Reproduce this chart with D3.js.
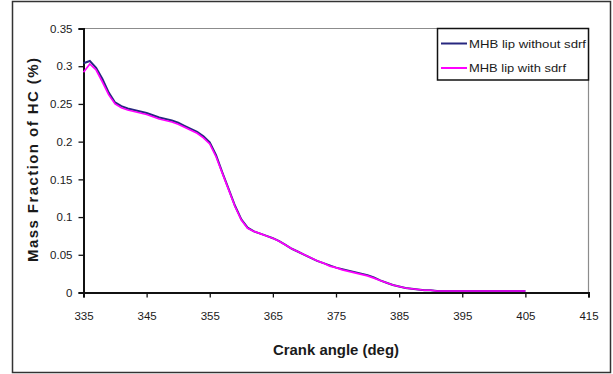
<!DOCTYPE html>
<html>
<head>
<meta charset="utf-8">
<script src="https://cdn.jsdelivr.net/npm/d3@7"></script>
<style>
  html, body { margin: 0; padding: 0; background: #fff; }
  svg { display: block; }
  text { font-family: "Liberation Sans", Arial, sans-serif; fill: #1a1a1a; }
</style>
</head>
<body>
<svg id="chart" width="613" height="374"></svg>
<script>
// Crank angle (deg) samples
const crankAngle = [
  335, 336, 337, 338, 339, 340, 341, 342, 343, 344,
  345, 346, 347, 348, 349, 350, 351, 352, 353, 354,
  355, 356, 357, 358, 359, 360, 361, 362, 363, 364,
  365, 366, 367, 368, 369, 370, 371, 372, 373, 374,
  375, 376, 377, 378, 379, 380, 381, 382, 383, 384,
  385, 386, 387, 388, 389, 390, 391, 392, 393, 394,
  395, 396, 397, 398, 399, 400, 401, 402, 403, 404, 405
];

// Mass fraction of HC (%) — MHB lip without sdrf
const hcWithout = [
  0.304, 0.307, 0.298, 0.283, 0.265, 0.252, 0.247, 0.244, 0.242, 0.240,
  0.238, 0.235, 0.232, 0.230, 0.228, 0.225, 0.221, 0.217, 0.213, 0.207,
  0.199, 0.182, 0.159, 0.137, 0.115, 0.097, 0.086, 0.081, 0.078, 0.075,
  0.072, 0.068, 0.063, 0.058, 0.054, 0.050, 0.046, 0.042, 0.039, 0.036,
  0.033, 0.031, 0.029, 0.027, 0.025, 0.023, 0.020, 0.016, 0.013, 0.010,
  0.008, 0.006, 0.005, 0.004, 0.003, 0.003, 0.002, 0.002, 0.002, 0.002,
  0.002, 0.002, 0.002, 0.002, 0.002, 0.002, 0.002, 0.002, 0.002, 0.002, 0.002
];

// Mass fraction of HC (%) — MHB lip with sdrf
const hcWith = [
  0.292, 0.303, 0.295, 0.279, 0.262, 0.250, 0.245, 0.242, 0.240, 0.238,
  0.236, 0.233, 0.230, 0.228, 0.226, 0.223, 0.219, 0.215, 0.211, 0.205,
  0.197, 0.180, 0.158, 0.136, 0.114, 0.096, 0.085, 0.081, 0.078, 0.075,
  0.072, 0.068, 0.063, 0.058, 0.054, 0.050, 0.046, 0.042, 0.039, 0.035,
  0.033, 0.030, 0.028, 0.026, 0.024, 0.022, 0.019, 0.016, 0.013, 0.010,
  0.008, 0.006, 0.005, 0.004, 0.003, 0.003, 0.002, 0.002, 0.002, 0.002,
  0.002, 0.002, 0.002, 0.002, 0.002, 0.002, 0.002, 0.002, 0.002, 0.002, 0.002
];

const xTicks = [335, 345, 355, 365, 375, 385, 395, 405, 415];
const yTicks = [0, 0.05, 0.1, 0.15, 0.2, 0.25, 0.3, 0.35];
const yTickLabels = ["0", "0.05", "0.1", "0.15", "0.2", "0.25", "0.3", "0.35"];
const seriesNames = ["MHB lip without sdrf", "MHB lip with sdrf"];
const seriesColors = ["#27277f", "#ff00ff"];

const svg = d3.select("#chart");
const plot = { left: 83.5, right: 588.5, top: 28.5, bottom: 292.5 };

// Outer chart frame
svg.append("rect")
  .attr("x", 12.5).attr("y", 1.5)
  .attr("width", 598).attr("height", 371)
  .attr("fill", "#fff").attr("stroke", "#333").attr("stroke-width", 1.5);

const x = d3.scaleLinear().domain([335, 415]).range([plot.left, plot.right]);
const y = d3.scaleLinear().domain([0, 0.35]).range([plot.bottom, plot.top]);

// Plot-area border (top and right in gray)
svg.append("path")
  .attr("d", `M${plot.left},${plot.top}H${plot.right}V${plot.bottom}`)
  .attr("fill", "none").attr("stroke", "#8c8c8c").attr("stroke-width", 1.2);

// Y axis
const yAxis = svg.append("g")
  .attr("transform", `translate(${plot.left},0)`)
  .call(d3.axisLeft(y).tickValues(yTicks)
    .tickFormat((d, i) => yTickLabels[i]).tickSize(5).tickPadding(6));
yAxis.select(".domain").attr("stroke", "#111").attr("stroke-width", 2);
yAxis.selectAll(".tick line").attr("stroke", "#111").attr("stroke-width", 1.3);
yAxis.selectAll(".tick text")
  .style("font-family", "'Liberation Sans', Arial, sans-serif")
  .attr("font-size", 11.5).attr("fill", "#1a1a1a");

// X axis
const xAxis = svg.append("g")
  .attr("transform", `translate(0,${plot.bottom})`)
  .call(d3.axisBottom(x).tickValues(xTicks).tickFormat(d3.format("d"))
    .tickSize(5).tickPadding(14));
xAxis.select(".domain").attr("stroke", "#111").attr("stroke-width", 2);
xAxis.selectAll(".tick line").attr("stroke", "#111").attr("stroke-width", 1.3);
xAxis.selectAll(".tick text")
  .style("font-family", "'Liberation Sans', Arial, sans-serif")
  .attr("font-size", 11.5).attr("fill", "#1a1a1a");

// Series lines
const line = (vals) => d3.line()
  .x((d, i) => x(crankAngle[i]))
  .y(d => y(d))(vals);

svg.append("path")
  .attr("d", line(hcWithout))
  .attr("fill", "none").attr("stroke", seriesColors[0]).attr("stroke-width", 2);
svg.append("path")
  .attr("d", line(hcWith))
  .attr("fill", "none").attr("stroke", seriesColors[1]).attr("stroke-width", 1.7);

// Axis titles
svg.append("text")
  .attr("x", (plot.left + plot.right) / 2).attr("y", 355)
  .attr("text-anchor", "middle")
  .attr("font-size", 14).attr("font-weight", "bold")
  .attr("textLength", 126).attr("lengthAdjust", "spacingAndGlyphs")
  .text("Crank angle (deg)");

svg.append("text")
  .attr("transform", "translate(38,160) rotate(-90)")
  .attr("text-anchor", "middle")
  .attr("font-size", 15).attr("font-weight", "bold")
  .attr("textLength", 204).attr("lengthAdjust", "spacing")
  .text("Mass Fraction of HC (%)");

// Legend
const legend = svg.append("g");
legend.append("rect")
  .attr("x", 437.5).attr("y", 28.5).attr("width", 151).attr("height", 51.5)
  .attr("fill", "#fff").attr("stroke", "#111").attr("stroke-width", 1.5);
seriesNames.forEach((name, i) => {
  const ly = 43.5 + i * 24.5;
  legend.append("line")
    .attr("x1", 441).attr("x2", 467).attr("y1", ly).attr("y2", ly)
    .attr("stroke", seriesColors[i]).attr("stroke-width", 2);
  legend.append("text")
    .attr("x", 469).attr("y", ly + 4)
    .attr("font-size", 11.5)
    .attr("textLength", i === 0 ? 117 : 97).attr("lengthAdjust", "spacingAndGlyphs")
    .text(name);
});
</script>
</body>
</html>
